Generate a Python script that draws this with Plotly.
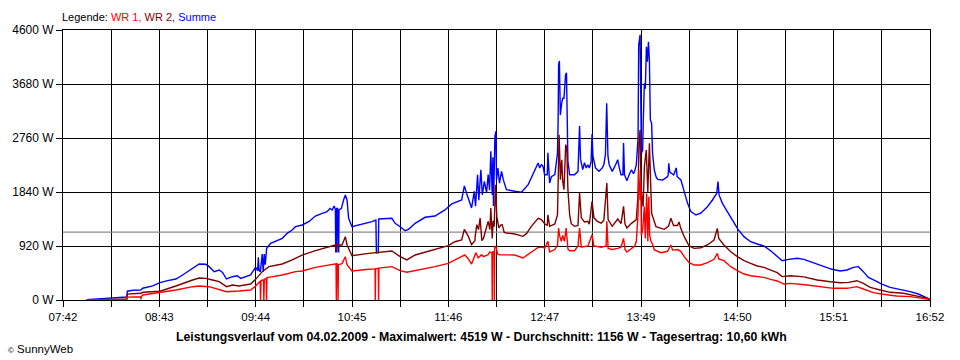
import plotly.graph_objects as go

# ---------------- data ----------------
x_tick_labels = ["07:42", "", "08:43", "", "09:44", "", "10:45", "", "11:46", "",
                 "12:47", "", "13:49", "", "14:50", "", "15:51", "", "16:52"]
y_tick_values = [0, 920, 1840, 2760, 3680, 4600]
y_tick_labels = ["0 W", "920 W", "1840 W", "2760 W", "3680 W", "4600 W"]
average_w = 1156
start_time = "07:42:00"
end_time = "16:52:00"

summe_time = [
    "07:57:00", "07:58:24", "08:04:00", "08:13:36", "08:22:30", "08:22:48", "08:26:18", "08:31:18",
    "08:32:36", "08:38:54", "08:43:30", "08:48:24", "08:53:36", "08:57:54", "09:04:12", "09:08:24",
    "09:12:36", "09:14:42", "09:17:54", "09:21:06", "09:23:12", "09:25:42", "09:29:30", "09:32:36",
    "09:34:42", "09:37:54", "09:41:00", "09:44:12", "09:45:30", "09:45:54", "09:46:24", "09:47:12",
    "09:48:24", "09:49:00", "09:49:42", "09:50:18", "09:51:12", "09:53:42", "10:01:06", "10:04:12",
    "10:07:24", "10:09:30", "10:13:42", "10:17:54", "10:22:06", "10:26:24", "10:29:30", "10:31:24",
    "10:32:42", "10:34:00", "10:34:48", "10:35:00", "10:35:24", "10:35:36", "10:36:12", "10:36:30",
    "10:36:54", "10:37:06", "10:38:36", "10:40:00", "10:41:06", "10:42:12", "10:43:12", "10:45:18",
    "10:51:42", "10:58:00", "11:00:30", "11:00:48", "11:02:00", "11:02:18", "11:10:36", "11:12:42",
    "11:15:54", "11:19:00", "11:21:12", "11:25:24", "11:31:42", "11:38:00", "11:44:18", "11:48:36",
    "11:54:54", "11:56:36", "11:58:00", "12:00:06", "12:01:12", "12:02:54", "12:03:42", "12:05:00",
    "12:05:48", "12:07:06", "12:08:00", "12:09:18", "12:10:42", "12:11:42", "12:12:36", "12:13:24",
    "12:14:18", "12:14:42", "12:15:06", "12:16:00", "12:16:36", "12:17:00", "12:17:54", "12:18:54",
    "12:20:12", "12:21:18", "12:23:18", "12:28:36", "12:32:48", "12:37:06", "12:39:06", "12:41:12",
    "12:43:24", "12:44:24", "12:45:30", "12:46:30", "12:47:30", "12:49:12", "12:49:36", "12:50:42",
    "12:51:48", "12:54:00", "12:55:42", "12:56:06", "12:56:24", "12:56:54", "12:57:30", "12:58:24",
    "12:59:00", "12:59:48", "13:00:48", "13:01:24", "13:02:06", "13:02:18", "13:03:24", "13:06:30",
    "13:08:42", "13:09:42", "13:10:18", "13:11:42", "13:12:48", "13:13:54", "13:14:54", "13:15:54",
    "13:17:00", "13:17:36", "13:18:12", "13:19:48", "13:22:00", "13:24:06", "13:25:06", "13:26:06",
    "13:26:54", "13:27:42", "13:28:30", "13:30:24", "13:32:30", "13:33:54", "13:34:54", "13:36:00",
    "13:37:12", "13:37:36", "13:38:12", "13:39:42", "13:41:24", "13:42:36", "13:43:54", "13:44:42",
    "13:45:42", "13:46:48", "13:47:12", "13:48:06", "13:48:54", "13:49:42", "13:50:06", "13:50:48",
    "13:51:24", "13:52:06", "13:52:42", "13:53:24", "13:54:00", "13:54:36", "13:55:24", "13:56:00",
    "13:57:06", "13:58:12", "13:59:12", "14:02:24", "14:05:30", "14:05:54", "14:06:18", "14:06:54",
    "14:09:24", "14:11:00", "14:11:36", "14:14:00", "14:16:06", "14:18:12", "14:20:18", "14:23:30",
    "14:26:36", "14:30:48", "14:34:00", "14:36:42", "14:37:30", "14:38:12", "14:40:18", "14:43:30",
    "14:46:36", "14:50:12", "14:54:00", "14:58:12", "15:02:24", "15:06:36", "15:10:54", "15:15:06",
    "15:18:12", "15:22:24", "15:27:42", "15:32:00", "15:36:12", "15:39:18", "15:44:30", "15:49:48",
    "15:55:06", "15:59:18", "16:03:24", "16:06:36", "16:09:42", "16:12:54", "16:17:12", "16:21:24",
    "16:26:42", "16:33:06", "16:39:24", "16:44:36", "16:48:48", "16:52:00",
]
summe_w = [
    0, 10, 20, 40, 50, 150, 165, 170,
    200, 240, 295, 330, 358, 426, 540, 613,
    608, 568, 483, 511, 470, 358, 397, 414,
    369, 397, 426, 557, 500, 727, 500, 483,
    784, 483, 784, 600, 880, 966, 1051, 1136,
    1193, 1249, 1278, 1334, 1431, 1477, 1505, 1560,
    1534, 1600, 1540, 823, 823, 1560, 1560, 823,
    823, 1534, 1560, 1704, 1789, 1704, 1392, 1249,
    1290, 1334, 1363, 806, 806, 1380, 1392, 1306,
    1249, 1181, 1204, 1306, 1409, 1431, 1534, 1636,
    1704, 1943, 1818, 1675, 1568, 1852, 1600, 2135,
    1700, 2220, 1790, 2022, 1830, 2135, 1870, 2533,
    1790, 2430, 1600, 2789, 2874, 2050, 2249, 1990,
    2192, 2050, 1880, 1852, 1835, 1965, 2079, 2192,
    2334, 2250, 2305, 2280, 2135, 2135, 2510, 1994,
    2100, 2135, 2505, 3067, 4004, 4072, 3152, 3362,
    3436, 3436, 3834, 3873, 2982, 2363, 2135, 2135,
    2192, 2965, 2400, 2220, 2340, 2250, 2305, 2249,
    2350, 2828, 2450, 2249, 2192, 2250, 2305, 2476,
    3351, 2450, 2305, 2192, 2300, 2391, 2250, 2135,
    2135, 2675, 2135, 2033, 2150, 2220, 2150, 2200,
    2305, 2760, 4345, 4519, 2500, 2550, 3038, 3692,
    3600, 4316, 4060, 4401, 4060, 3067, 3010, 2500,
    2215, 2101, 2056, 2045, 2101, 2130, 2329, 2180,
    2130, 2250, 2100, 2045, 1846, 1647, 1505, 1448,
    1480, 1590, 1704, 1818, 2016, 1790, 1647, 1505,
    1375, 1204, 1079, 993, 954, 920, 840, 738,
    670, 693, 710, 693, 653, 625, 579, 523,
    494, 511, 557, 568, 483, 386, 329, 272,
    216, 182, 142, 102, 57, 12,
]

wr2_time = [
    "07:57:00", "08:22:30", "08:22:48", "08:26:18", "08:31:30", "08:32:36", "08:43:30", "08:53:36",
    "08:57:54", "09:04:12", "09:08:24", "09:12:36", "09:16:48", "09:21:06", "09:25:42", "09:29:30",
    "09:33:42", "09:37:54", "09:41:00", "09:44:12", "09:48:24", "09:52:36", "10:01:06", "10:07:24",
    "10:13:42", "10:22:06", "10:30:36", "10:34:48", "10:35:12", "10:35:48", "10:39:00", "10:41:06",
    "10:42:12", "10:45:18", "10:55:54", "11:00:30", "11:10:36", "11:15:54", "11:20:06", "11:25:24",
    "11:38:00", "11:46:24", "11:50:36", "11:54:54", "11:56:36", "11:59:12", "12:01:12", "12:03:18",
    "12:03:30", "12:04:30", "12:05:36", "12:06:36", "12:07:42", "12:08:42", "12:11:42", "12:12:48",
    "12:13:24", "12:14:18", "12:14:54", "12:15:30", "12:16:24", "12:17:12", "12:18:30", "12:19:48",
    "12:20:36", "12:21:54", "12:23:18", "12:28:36", "12:33:48", "12:36:00", "12:39:06", "12:42:18",
    "12:43:24", "12:45:30", "12:47:36", "12:49:12", "12:49:36", "12:50:42", "12:54:00", "12:55:42",
    "12:56:06", "12:56:42", "12:57:18", "12:57:30", "12:58:24", "12:59:00", "12:59:48", "13:00:54",
    "13:01:36", "13:02:18", "13:03:24", "13:04:24", "13:06:30", "13:08:42", "13:09:42", "13:10:48",
    "13:12:48", "13:15:00", "13:15:54", "13:17:36", "13:18:48", "13:21:00", "13:23:24", "13:25:06",
    "13:27:00", "13:27:48", "13:30:24", "13:32:30", "13:33:54", "13:36:00", "13:37:36", "13:38:30",
    "13:39:42", "13:42:36", "13:44:42", "13:45:42", "13:46:48", "13:47:24", "13:48:06", "13:48:42",
    "13:50:00", "13:50:48", "13:52:00", "13:53:00", "13:54:00", "13:54:36", "13:55:24", "13:58:12",
    "14:01:18", "14:03:24", "14:06:12", "14:07:36", "14:09:18", "14:11:48", "14:12:48", "14:13:54",
    "14:16:06", "14:19:12", "14:22:24", "14:26:36", "14:30:48", "14:35:00", "14:37:06", "14:38:00",
    "14:41:18", "14:45:36", "14:49:48", "14:54:00", "14:58:12", "15:02:24", "15:06:36", "15:10:54",
    "15:15:06", "15:18:12", "15:23:30", "15:32:00", "15:40:24", "15:48:48", "15:55:06", "16:00:24",
    "16:05:36", "16:09:42", "16:14:06", "16:20:24", "16:26:42", "16:35:06", "16:41:24", "16:47:42",
    "16:52:00",
]
wr2_w = [
    0, 20, 100, 105, 114, 131, 150, 238,
    284, 341, 375, 369, 341, 312, 227, 256,
    238, 256, 272, 352, 483, 568, 613, 682,
    765, 840, 897, 937, 830, 937, 937, 1079,
    937, 755, 795, 810, 835, 738, 682, 767,
    863, 925, 993, 1022, 1204, 1079, 942, 1010,
    1085, 1283, 1200, 1397, 1010, 1050, 1340, 1200,
    1568, 1050, 1350, 1250, 1965, 1420, 1227, 1280,
    1283, 1150, 1142, 1125, 1085, 1130, 1255, 1368,
    1390, 1368, 1300, 1270, 1450, 1255, 1295, 1454,
    2476, 2817, 2300, 2050, 2390, 2020, 1880, 2647,
    2590, 1880, 1454, 1300, 1255, 1270, 1823, 1400,
    1330, 1340, 1290, 1681, 1400, 1340, 1310, 1360,
    1994, 1370, 1255, 1340, 1380, 1300, 1596, 1300,
    1227, 1306, 1340, 1370, 1795, 2703, 2900, 1900,
    1590, 2272, 2556, 1840, 2669, 1900, 1477, 1249,
    1215, 1204, 1260, 1392, 1270, 1270, 1330, 1221,
    1079, 920, 880, 890, 937, 1022, 1221, 1050,
    937, 823, 738, 670, 625, 579, 557, 511,
    466, 398, 414, 395, 341, 312, 295, 300,
    329, 284, 216, 170, 131, 114, 85, 45,
    10,
]

wr1_time = [
    "07:57:00", "08:22:30", "08:22:48", "08:31:18", "08:31:24", "08:31:42", "08:32:36", "08:43:30",
    "08:53:36", "09:04:12", "09:08:24", "09:14:42", "09:21:06", "09:25:42", "09:33:42", "09:41:00",
    "09:44:12", "09:46:12", "09:47:06", "09:47:18", "09:47:36", "09:49:12", "09:49:24", "09:49:42",
    "09:50:54", "09:51:06", "09:51:24", "09:52:36", "10:01:06", "10:09:30", "10:13:42", "10:22:06",
    "10:30:36", "10:33:48", "10:35:12", "10:35:24", "10:35:36", "10:36:18", "10:36:30", "10:36:42",
    "10:39:00", "10:41:06", "10:42:12", "10:43:12", "10:45:18", "10:55:54", "11:00:00", "11:00:06",
    "11:00:18", "11:02:00", "11:02:12", "11:02:24", "11:10:36", "11:15:54", "11:20:06", "11:25:24",
    "11:38:00", "11:46:24", "11:50:36", "11:54:54", "11:56:54", "11:59:12", "12:01:12", "12:02:18",
    "12:03:54", "12:05:24", "12:07:30", "12:08:42", "12:11:42", "12:12:48", "12:14:06", "12:14:18",
    "12:14:30", "12:15:24", "12:15:36", "12:15:48", "12:16:36", "12:17:42", "12:19:06", "12:23:18",
    "12:28:36", "12:33:48", "12:39:06", "12:43:24", "12:46:36", "12:47:36", "12:49:36", "12:50:42",
    "12:54:00", "12:55:42", "12:56:24", "12:57:00", "12:58:06", "12:59:00", "13:00:06", "13:01:12",
    "13:02:18", "13:03:24", "13:06:30", "13:08:42", "13:09:42", "13:10:48", "13:15:00", "13:17:36",
    "13:18:48", "13:23:24", "13:26:30", "13:27:00", "13:27:48", "13:30:24", "13:33:54", "13:36:00",
    "13:37:36", "13:38:30", "13:39:42", "13:42:36", "13:44:42", "13:45:42", "13:46:48", "13:47:12",
    "13:48:06", "13:48:30", "13:48:54", "13:49:42", "13:50:48", "13:51:24", "13:52:18", "13:53:00",
    "13:53:36", "13:54:12", "13:55:00", "13:56:00", "13:57:06", "14:01:18", "14:05:30", "14:07:36",
    "14:08:42", "14:11:48", "14:13:54", "14:16:06", "14:19:12", "14:22:24", "14:26:36", "14:30:48",
    "14:35:00", "14:37:06", "14:38:00", "14:41:18", "14:45:36", "14:49:48", "14:54:00", "14:58:12",
    "15:02:24", "15:06:36", "15:10:54", "15:15:06", "15:19:18", "15:23:30", "15:34:00", "15:44:30",
    "15:50:48", "15:59:18", "16:05:36", "16:09:42", "16:16:00", "16:22:18", "16:30:42", "16:39:24",
    "16:47:42", "16:52:00",
]
wr1_w = [
    0, 10, 50, 55, 10, 57, 85, 125,
    170, 227, 238, 227, 182, 142, 153, 170,
    238, 300, 320, 0, 330, 341, 0, 350,
    370, 0, 386, 386, 426, 483, 494, 557,
    602, 618, 618, 0, 618, 610, 0, 602,
    620, 738, 600, 560, 494, 523, 530, 0,
    530, 540, 0, 545, 568, 500, 472, 500,
    568, 625, 682, 738, 767, 700, 613, 690,
    806, 720, 772, 740, 772, 820, 800, 0,
    820, 830, 0, 886, 920, 780, 772, 767,
    767, 716, 818, 897, 897, 880, 1000, 818,
    860, 937, 1227, 1100, 1000, 1100, 1000, 1227,
    870, 840, 840, 920, 1227, 900, 920, 1113,
    920, 900, 920, 1340, 880, 860, 880, 900,
    1050, 860, 818, 880, 920, 1000, 1454, 2215,
    1700, 2000, 1100, 1200, 1590, 1050, 1818, 1000,
    1761, 1100, 1000, 950, 852, 806, 830, 937,
    850, 860, 830, 738, 636, 596, 596, 636,
    693, 795, 700, 670, 568, 500, 443, 414,
    397, 386, 352, 324, 272, 284, 256, 227,
    199, 199, 227, 187, 125, 97, 68, 57,
    34, 10,
]


# ---------------- helpers ----------------
def to_min(s):
    p = [int(v) for v in s.split(":")]
    while len(p) < 3:
        p.append(0)
    return p[0] * 60 + p[1] + p[2] / 60.0


t0 = to_min(start_time)
t1 = to_min(end_time)
n_ticks = len(x_tick_labels)
x_tick_vals = [t0 + i * (t1 - t0) / (n_ticks - 1) for i in range(n_ticks)]

FONT = "Liberation Sans, Arial, sans-serif"

fig = go.Figure()

fig.add_trace(go.Scatter(
    x=[t0, t1], y=[average_w, average_w], mode="lines",
    line=dict(color="#8c8c8c", width=1.2), hoverinfo="skip", showlegend=False))

fig.add_trace(go.Scatter(
    x=[to_min(s) for s in summe_time], y=summe_w, mode="lines", name="Summe",
    line=dict(color="#0000ff", width=1.4), showlegend=False))
fig.add_trace(go.Scatter(
    x=[to_min(s) for s in wr2_time], y=wr2_w, mode="lines", name="WR 2",
    line=dict(color="#800000", width=1.4), showlegend=False))
fig.add_trace(go.Scatter(
    x=[to_min(s) for s in wr1_time], y=wr1_w, mode="lines", name="WR 1",
    line=dict(color="#ff0000", width=1.4), showlegend=False))

fig.update_layout(
    width=960, height=360,
    margin=dict(l=60, r=30, t=30, b=60),
    paper_bgcolor="white", plot_bgcolor="white",
    font=dict(family=FONT, size=11, color="black"),
    showlegend=False,
    xaxis=dict(
        range=[t0, t1], tickmode="array", tickvals=x_tick_vals, ticktext=x_tick_labels,
        showgrid=True, gridcolor="black", gridwidth=1,
        ticks="outside", ticklen=6, tickcolor="black", tickwidth=1,
        showline=True, linecolor="black", linewidth=1, mirror=True,
        zeroline=False, tickfont=dict(size=11.5, family=FONT),
    ),
    yaxis=dict(
        range=[0, 4600], tickmode="array", tickvals=y_tick_values, ticktext=y_tick_labels,
        showgrid=True, gridcolor="black", gridwidth=1,
        ticks="outside", ticklen=6, tickcolor="black", tickwidth=1,
        showline=True, linecolor="black", linewidth=1, mirror=True,
        zeroline=False, tickfont=dict(size=12, family=FONT),
    ),
    annotations=[
        dict(xref="paper", yref="paper", x=(57 - 60) / 870, y=1 + (30 - 17) / 270,
             xanchor="left", yanchor="middle", showarrow=False,
             font=dict(size=11, family=FONT),
             text="Legende: <span style='color:#ff0000'>WR 1, </span>"
                  "<span style='color:#800000'>WR 2, </span>"
                  "<span style='color:#0000ff'>Summe</span>"),
        dict(xref="paper", yref="paper", x=(480 - 60) / 870, y=(300 - 337) / 270,
             xanchor="center", yanchor="middle", showarrow=False,
             font=dict(size=12.3, family=FONT),
             text="<b>Leistungsverlauf vom 04.02.2009 - Maximalwert: 4519 W - "
                  "Durchschnitt: 1156 W - Tagesertrag: 10,60 kWh</b>"),
        dict(xref="paper", yref="paper", x=(3 - 60) / 870, y=(300 - 349) / 270,
             xanchor="left", yanchor="middle", showarrow=False,
             font=dict(size=11.5, family=FONT),
             text="<span style='font-size:8px'>©</span> SunnyWeb"),
    ],
)

fig.write_html("out.html", config={"displayModeBar": False},
               post_script="document.body.style.margin='0px';")
